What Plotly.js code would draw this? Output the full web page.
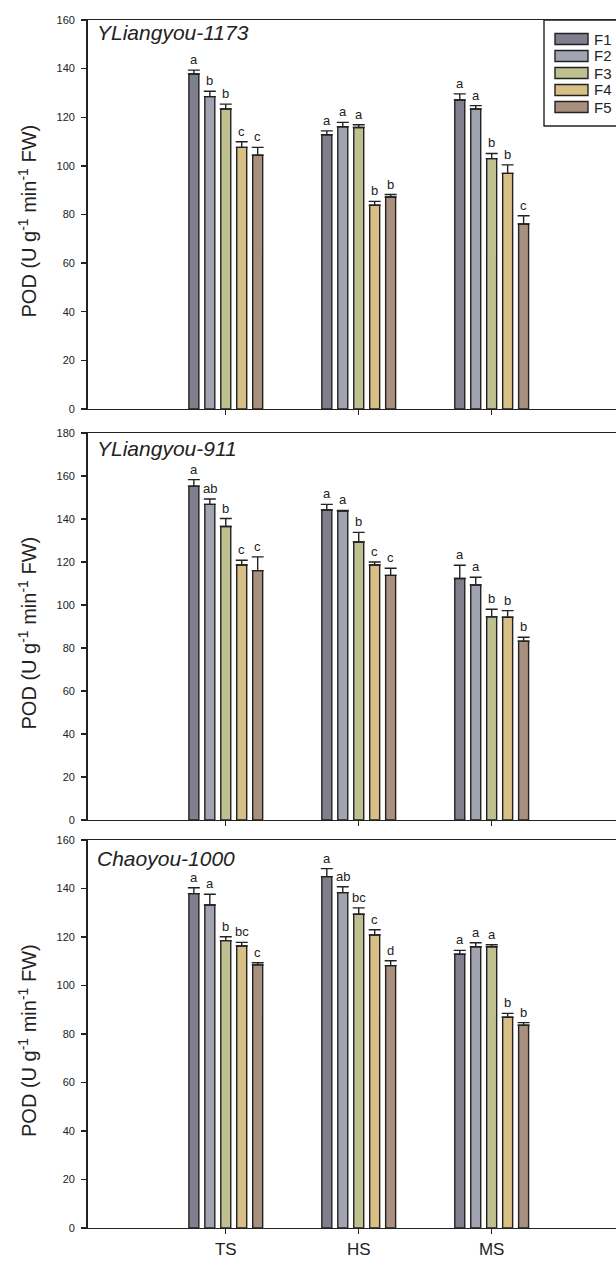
<!DOCTYPE html>
<html>
<head>
<meta charset="utf-8">
<script src="https://cdn.plot.ly/plotly-3.0.1.min.js"></script>
<style>
html,body{margin:0;padding:0;background:#fff;overflow:hidden;}
#chart{width:616px;height:1261px;}
</style>
</head>
<body>
<div id="chart"></div>
<script>
const categories = ['TS', 'HS', 'MS'];
const seriesNames = ['F1', 'F2', 'F3', 'F4', 'F5'];
const seriesColors = ['#807f8d', '#a1a3b0', '#bfc08f', '#d7bf85', '#a88f7e'];
const panelTitles = ['YLiangyou-1173', 'YLiangyou-911', 'Chaoyou-1000'];
const yTickMax = [160, 180, 160];

// values: rows = F1..F5, columns = TS, HS, MS
const yl1173Mean = [
  [137.8, 112.8, 127.1],
  [128.5, 116.1, 123.4],
  [123.4, 115.8, 103.0],
  [107.6, 83.8, 96.9],
  [104.4, 87.2, 76.1]
];
const yl1173Err = [
  [1.6, 1.6, 2.5],
  [2.2, 1.8, 1.4],
  [2.0, 1.1, 2.1],
  [2.3, 1.6, 3.5],
  [3.2, 1.0, 3.4]
];
const yl1173Letters = [
  ['a', 'a', 'a'],
  ['b', 'a', 'a'],
  ['b', 'a', 'b'],
  ['c', 'b', 'b'],
  ['c', 'b', 'c']
];

const yl911Mean = [
  [155.3, 144.2, 112.3],
  [146.8, 143.7, 109.3],
  [136.5, 129.3, 94.5],
  [118.6, 118.6, 94.3],
  [116.0, 113.8, 83.2]
];
const yl911Err = [
  [3.0, 2.6, 6.2],
  [2.5, 0.3, 3.6],
  [3.7, 4.5, 3.5],
  [2.2, 1.4, 3.1],
  [6.4, 3.3, 1.8]
];
const yl911Letters = [
  ['a', 'a', 'a'],
  ['ab', 'a', 'a'],
  ['b', 'b', 'b'],
  ['c', 'c', 'b'],
  ['c', 'c', 'b']
];

const cy1000Mean = [
  [137.9, 144.9, 112.9],
  [133.2, 138.3, 116.0],
  [118.5, 129.4, 116.0],
  [116.3, 120.8, 86.9],
  [108.5, 108.2, 83.6]
];
const cy1000Err = [
  [2.4, 3.3, 1.6],
  [4.4, 2.4, 1.6],
  [1.6, 2.6, 0.8],
  [1.5, 2.2, 1.6],
  [0.9, 2.0, 1.1]
];
const cy1000Letters = [
  ['a', 'a', 'a'],
  ['a', 'ab', 'a'],
  ['b', 'bc', 'a'],
  ['bc', 'c', 'b'],
  ['c', 'd', 'b']
];

const panels = [
  {mean: yl1173Mean, err: yl1173Err, letters: yl1173Letters},
  {mean: yl911Mean, err: yl911Err, letters: yl911Letters},
  {mean: cy1000Mean, err: cy1000Err, letters: cy1000Letters}
];

// ---- layout geometry (pixels) ----
const W = 616, H = 1261;
const plotLeft = 87.5;
const panelPx = [[20, 409], [433, 820], [840, 1228]]; // top, bottom
const titleTopPx = [19, 435, 845];
const font = '"Liberation Sans", Arial, Helvetica, sans-serif';
const ink = '#222222';
const py = v => 1 - v / H;
const px = v => v / W;

const traces = [];
const annotations = [];
const shapes = [];
const layout = {
  width: W, height: H,
  margin: {l: 0, r: 0, t: 0, b: 0},
  paper_bgcolor: '#ffffff', plot_bgcolor: '#ffffff',
  barmode: 'group', bargap: 0.4, bargroupgap: 0.375,
  showlegend: false,
  font: {family: font, color: ink},
  annotations: annotations, shapes: shapes
};

panels.forEach((p, i) => {
  const n = i === 0 ? '' : String(i + 1);
  const xa = 'x' + n, ya = 'y' + n;
  p.mean.forEach((vals, s) => {
    traces.push({
      type: 'bar', name: seriesNames[s], x: categories, y: vals,
      xaxis: xa, yaxis: ya, showlegend: false, hoverinfo: 'x+y+name',
      marker: {color: seriesColors[s], line: {color: ink, width: 1.4}},
      error_y: {type: 'data', symmetric: false, array: p.err[s],
        arrayminus: vals.map(() => 0), color: ink, thickness: 1.4, width: 6}
    });
    vals.forEach((v, c) => {
      annotations.push({
        xref: xa, yref: ya, x: categories[c], y: v + p.err[s][c],
        text: p.letters[s][c], showarrow: false, xanchor: 'center', yanchor: 'bottom',
        xshift: (s - 2) * 16, yshift: 1, font: {size: 13, color: ink, family: font}
      });
    });
  });
  const [top, bot] = panelPx[i];
  layout['xaxis' + n] = {
    domain: [px(plotLeft), 1], anchor: ya, type: 'category',
    range: [-1.04, 2.935], showline: true, linecolor: ink, linewidth: 1.4,
    mirror: true, ticks: 'outside', ticklen: 5, tickwidth: 1.3, tickcolor: ink,
    showgrid: false, zeroline: false, showticklabels: i === 2,
    tickfont: {size: 17, color: ink, family: font}, fixedrange: true
  };
  layout['yaxis' + n] = {
    domain: [py(bot), py(top)], anchor: xa, range: [0, yTickMax[i]], dtick: 20,
    showline: true, linecolor: ink, linewidth: 1.4, ticks: 'outside', ticklen: 5,
    tickwidth: 1.3, tickcolor: ink, showgrid: false, zeroline: false,
    tickfont: {size: 11, color: ink, family: font}, ticklabelstandoff: 4, fixedrange: true
  };
  // panel title
  annotations.push({
    xref: 'paper', yref: 'paper', x: px(95), y: py(titleTopPx[i]),
    xanchor: 'left', yanchor: 'top', showarrow: false,
    text: '<i>' + panelTitles[i] + '</i>', font: {size: 21, color: ink, family: font}
  });
  // y-axis title
  annotations.push({
    xref: 'paper', yref: 'paper', x: px(27), y: py((top + bot) / 2 + 7),
    xanchor: 'center', yanchor: 'middle', showarrow: false, textangle: -90,
    text: 'POD (U g<sup>-1</sup> min<sup>-1</sup> FW)', font: {size: 20, color: ink, family: font}
  });
});

// legend (box + swatches)
shapes.push({type: 'rect', xref: 'paper', yref: 'paper', x0: px(544), x1: px(640),
  y0: py(126), y1: py(20), line: {color: ink, width: 1.4}, fillcolor: '#ffffff', layer: 'above'});
seriesNames.forEach((name, s) => {
  const cy = 39 + s * 17;
  shapes.push({type: 'rect', xref: 'paper', yref: 'paper', x0: px(555), x1: px(588),
    y0: py(cy + 5.5), y1: py(cy - 5.5), line: {color: ink, width: 1.4},
    fillcolor: seriesColors[s], layer: 'above'});
  annotations.push({xref: 'paper', yref: 'paper', x: px(592), y: py(cy),
    xanchor: 'left', yanchor: 'middle', showarrow: false, text: name,
    font: {size: 15, color: ink, family: font}});
});

Plotly.newPlot('chart', traces, layout, {displayModeBar: false, staticPlot: true});
</script>
</body>
</html>
